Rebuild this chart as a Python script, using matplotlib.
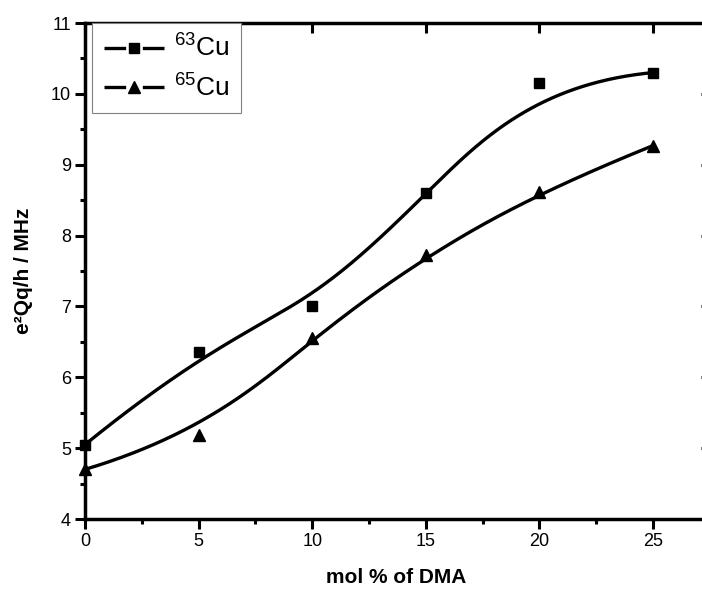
import numpy as np
import matplotlib
matplotlib.use("Agg")
import matplotlib.pyplot as plt
from matplotlib.lines import Line2D
from matplotlib.ticker import MultipleLocator

plt.rcParams['font.family'] = ['Liberation Sans', 'DejaVu Sans']
plt.rcParams['mathtext.fontset'] = 'custom'
plt.rcParams['mathtext.rm'] = 'Liberation Sans'
plt.rcParams['mathtext.it'] = 'Liberation Sans:italic'
plt.rcParams['mathtext.bf'] = 'Liberation Sans:bold'

# Data
mol_dma = [0, 5, 10, 15, 20, 25]
cu63 = [5.05, 6.35, 7.00, 8.60, 10.15, 10.30]
cu65 = [4.70, 5.18, 6.55, 7.73, 8.62, 9.27]
labels = [r'$^{63}$Cu', r'$^{65}$Cu']
x_label = 'mol % of DMA'
y_label = 'e²Qq/h / MHz'


def bspline(xs, ys, k=3, n=400):
    """Clamped cubic B-spline using the data points as control points."""
    P = np.column_stack([xs, ys]).astype(float)
    m = len(P)
    inner = np.linspace(0, 1, m - k + 1)
    knots = np.concatenate([np.zeros(k), inner, np.ones(k)])
    t = np.linspace(0, 1, n)
    t[-1] = 1 - 1e-12
    N = np.zeros((n, len(knots) - 1))
    for i in range(len(knots) - 1):
        N[:, i] = ((t >= knots[i]) & (t < knots[i + 1])).astype(float)
    for d in range(1, k + 1):
        Nn = np.zeros((n, len(knots) - 1 - d))
        for i in range(len(knots) - 1 - d):
            a = knots[i + d] - knots[i]
            b = knots[i + d + 1] - knots[i + 1]
            term = 0
            if a > 0:
                term = term + (t - knots[i]) / a * N[:, i]
            if b > 0:
                term = term + (knots[i + d + 1] - t) / b * N[:, i + 1]
            Nn[:, i] = term
        N = Nn
    C = N @ P
    return C[:, 0], C[:, 1]


fig = plt.figure(figsize=(7.02, 5.90), dpi=100)
ax = fig.add_axes([85 / 702, 71 / 590, 623 / 702, 496 / 590])

lw = 2.4
for ys, mk, ms in [(cu63, 's', 7), (cu65, '^', 8.5)]:
    cx, cy = bspline(mol_dma, ys)
    ax.plot(cx, cy, color='black', lw=lw, solid_capstyle='butt', zorder=2)
    ax.plot(mol_dma, ys, linestyle='none', marker=mk, markersize=ms,
            color='black', zorder=3, clip_on=False)

ax.set_xlim(0, 623 / (113.6 / 5))
ax.set_ylim(4, 11)

ax.xaxis.set_major_locator(MultipleLocator(5))
ax.xaxis.set_minor_locator(MultipleLocator(2.5))
ax.yaxis.set_major_locator(MultipleLocator(1))
ax.yaxis.set_minor_locator(MultipleLocator(0.5))

for sp in ax.spines.values():
    sp.set_linewidth(2.5)

ax.tick_params(axis='both', which='major', direction='out', length=7, width=2.2,
               labelsize=13, pad=3)
ax.tick_params(axis='both', which='minor', direction='out', length=3.5, width=2.2)
ax.tick_params(top=True, right=True, which='major')
ax.tick_params(which='minor', top=False, right=False)
for t in ax.xaxis.get_major_ticks():
    t.tick2line.set_marker(3)  # inward for top
    t.tick2line.set_markersize(7)
for t in ax.yaxis.get_major_ticks():
    t.tick2line.set_marker(0)  # inward for right
    t.tick2line.set_markersize(5)

ax.set_xlabel(x_label, fontsize=15, fontweight='bold', labelpad=13)
ax.set_ylabel(y_label, fontsize=15, fontweight='bold', labelpad=13)

handles = [
    Line2D([], [], color='black', lw=lw, marker='s', markersize=6.5,
           dashes=(6.5, 5)),
    Line2D([], [], color='black', lw=lw, marker='^', markersize=8,
           dashes=(6.5, 5)),
]
leg = ax.legend(handles, labels, loc='upper left', bbox_to_anchor=(7 / 623, 1.0),
                fontsize=19, frameon=True, fancybox=False, framealpha=1,
                edgecolor='#808080', handlelength=2.3, handletextpad=0.35,
                borderpad=0.45, labelspacing=0.45, borderaxespad=0,
                numpoints=1)
leg.get_frame().set_linewidth(0.8)

fig.savefig('out.png', dpi=100)
